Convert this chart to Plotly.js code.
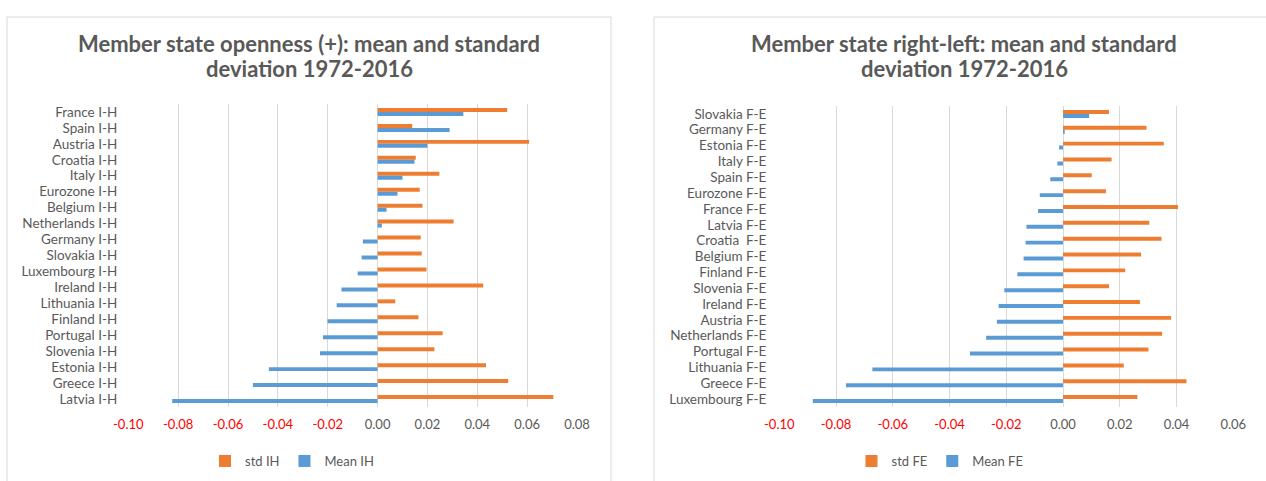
<!DOCTYPE html>
<html>
<head>
<meta charset="utf-8">
<script src="https://cdn.plot.ly/plotly-3.0.1.min.js"></script>
<style>html,body{margin:0;padding:0;background:#fff;}#chart{width:1266px;height:481px;}</style>
</head>
<body>
<div id="chart"></div>
<script>
// ---- data ----
const leftCategories = ['France I-H','Spain I-H','Austria I-H','Croatia I-H','Italy I-H','Eurozone I-H','Belgium I-H','Netherlands I-H','Germany I-H','Slovakia I-H','Luxembourg I-H','Ireland I-H','Lithuania I-H','Finland I-H','Portugal I-H','Slovenia I-H','Estonia I-H','Greece I-H','Latvia I-H'];
const stdIH  = [0.0520,0.0139,0.0608,0.0153,0.0248,0.0169,0.0180,0.0305,0.0173,0.0177,0.0196,0.0424,0.0071,0.0164,0.0261,0.0228,0.0435,0.0524,0.0705];
const meanIH = [0.0344,0.0289,0.0200,0.0148,0.0100,0.0080,0.0036,0.0017,-0.0059,-0.0064,-0.0080,-0.0145,-0.0164,-0.0201,-0.0219,-0.0231,-0.0436,-0.0500,-0.0824];

const rightCategories = ['Slovakia F-E','Germany F-E','Estonia F-E','Italy F-E','Spain F-E','Eurozone F-E','France F-E','Latvia F-E','Croatia  F-E','Belgium F-E','Finland F-E','Slovenia F-E','Ireland F-E','Austria F-E','Netherlands F-E','Portugal F-E','Lithuania F-E','Greece F-E','Luxembourg F-E'];
const stdFE  = [0.0162,0.0294,0.0355,0.0171,0.0101,0.0151,0.0405,0.0304,0.0347,0.0275,0.0219,0.0162,0.0271,0.0381,0.0349,0.0301,0.0214,0.0435,0.0262];
const meanFE = [0.0092,0.0006,-0.0014,-0.0020,-0.0045,-0.0082,-0.0088,-0.0129,-0.0132,-0.0139,-0.0161,-0.0207,-0.0227,-0.0233,-0.0271,-0.0328,-0.0672,-0.0765,-0.0882];

const leftTickValues = [-0.10,-0.08,-0.06,-0.04,-0.02,0.00,0.02,0.04,0.06,0.08];
const leftTickLabels = ['-0.10','-0.08','-0.06','-0.04','-0.02','0.00','0.02','0.04','0.06','0.08'];
const rightTickValues = [-0.10,-0.08,-0.06,-0.04,-0.02,0.00,0.02,0.04,0.06];
const rightTickLabels = ['-0.10','-0.08','-0.06','-0.04','-0.02','0.00','0.02','0.04','0.06'];

const leftTitleLines = ['Member state openness (+): mean and standard', 'deviation 1972-2016'];
const rightTitleLines = ['Member state right-left: mean and standard', 'deviation 1972-2016'];

// ---- styling ----
const ORANGE = '#ED7D31', BLUE = '#5B9BD5', GRID = '#D9D9D9', TXT = '#595959', RED = '#FF0000';
const FONT = 'Lato, "Open Sans", sans-serif';
const W = 1266, H = 481;
const px = v => v / W;
const py = v => 1 - v / H;

function colorTicks(vals, labels) {
  return labels.map((t, i) => vals[i] < 0 ? '<span style="color:' + RED + '">' + t + '</span>' : t);
}

const traces = [
  {type:'bar', orientation:'h', name:'std IH', y:leftCategories, x:stdIH, marker:{color:ORANGE}, xaxis:'x', yaxis:'y', legend:'legend'},
  {type:'bar', orientation:'h', name:'Mean IH', y:leftCategories, x:meanIH, marker:{color:BLUE}, xaxis:'x', yaxis:'y', legend:'legend'},
  {type:'bar', orientation:'h', name:'std FE', y:rightCategories, x:stdFE, marker:{color:ORANGE}, xaxis:'x2', yaxis:'y2', legend:'legend2'},
  {type:'bar', orientation:'h', name:'Mean FE', y:rightCategories, x:meanFE, marker:{color:BLUE}, xaxis:'x2', yaxis:'y2', legend:'legend2'}
];

const xCommon = {
  showgrid:true, gridcolor:GRID, gridwidth:1, zeroline:true, zerolinecolor:GRID, zerolinewidth:1,
  showline:false, ticks:'', tickmode:'array', tickfont:{family:FONT, size:13, color:TXT},
  ticklabelstandoff:8, fixedrange:true
};
const yCommon = {
  type:'category', autorange:'reversed', showgrid:false, zeroline:false, showline:false, ticks:'',
  tickmode:'array', tickfont:{family:FONT, size:13.5, color:TXT}, fixedrange:true
};

function titleAnnots(lines, cx) {
  return [
    {text:'<b>' + lines[0] + '</b>', xref:'paper', yref:'paper', x:px(cx), y:py(43), xanchor:'center', yanchor:'middle',
     showarrow:false, font:{family:FONT, size:22, color:TXT}},
    {text:'<b>' + lines[1] + '</b>', xref:'paper', yref:'paper', x:px(cx), y:py(68), xanchor:'center', yanchor:'middle',
     showarrow:false, font:{family:FONT, size:22, color:TXT}}
  ];
}

const layout = {
  width:W, height:H, margin:{l:0,r:0,t:0,b:0}, paper_bgcolor:'#fff', plot_bgcolor:'rgba(0,0,0,0)',
  barmode:'group', bargap:0.5, bargroupgap:0,
  font:{family:FONT, color:TXT},
  showlegend:true,
  xaxis: Object.assign({}, xCommon, {domain:[px(128.3), px(577)], range:[-0.10,0.08], anchor:'y',
          tickvals:leftTickValues, ticktext:colorTicks(leftTickValues, leftTickLabels)}),
  yaxis: Object.assign({}, yCommon, {domain:[py(407), py(104)], anchor:'x', ticklabelstandoff:10,
          tickvals:leftCategories, ticktext:leftCategories}),
  xaxis2: Object.assign({}, xCommon, {domain:[px(779.3), px(1233.3)], range:[-0.10,0.06], anchor:'y2',
          tickvals:rightTickValues, ticktext:colorTicks(rightTickValues, rightTickLabels)}),
  yaxis2: Object.assign({}, yCommon, {domain:[py(407), py(106)], anchor:'x2', ticklabelstandoff:12,
          tickvals:rightCategories, ticktext:rightCategories}),
  legend: {orientation:'h', x:px(292), y:py(461), xanchor:'center', yanchor:'middle',
           font:{family:FONT, size:13, color:TXT}, bgcolor:'rgba(0,0,0,0)', itemwidth:30, tracegroupgap:0},
  legend2: {orientation:'h', x:px(940), y:py(461), xanchor:'center', yanchor:'middle',
           font:{family:FONT, size:13, color:TXT}, bgcolor:'rgba(0,0,0,0)', itemwidth:30, tracegroupgap:0},
  annotations: titleAnnots(leftTitleLines, 309).concat(titleAnnots(rightTitleLines, 964)),
  shapes: [
    {type:'rect', xref:'paper', yref:'paper', x0:px(7), x1:px(611), y0:py(495), y1:py(17), line:{color:GRID, width:1}, layer:'below'},
    {type:'rect', xref:'paper', yref:'paper', x0:px(654), x1:px(1280), y0:py(495), y1:py(17), line:{color:GRID, width:1}, layer:'below'}
  ]
};

Plotly.newPlot('chart', traces, layout, {displayModeBar:false, staticPlot:true});
</script>
</body>
</html>
